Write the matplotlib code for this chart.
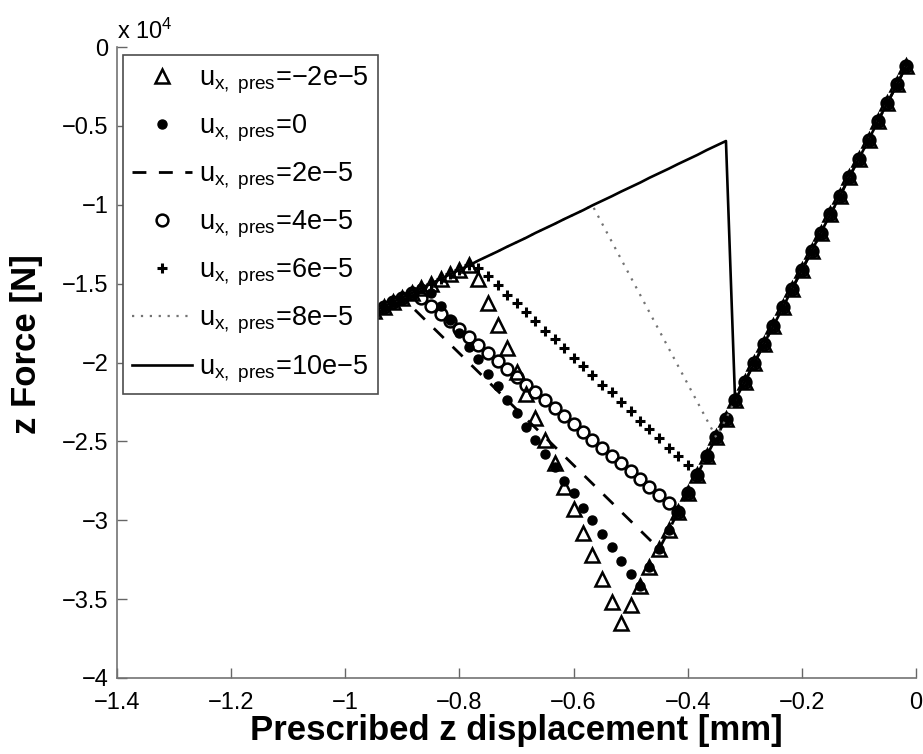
import matplotlib
matplotlib.use("Agg")
import matplotlib.pyplot as plt

plt.rcParams['font.family'] = ['Liberation Sans', 'DejaVu Sans']
plt.rcParams['mathtext.fontset'] = 'custom'
plt.rcParams['mathtext.rm'] = 'Liberation Sans'
plt.rcParams['mathtext.it'] = 'Liberation Sans:italic'
plt.rcParams['mathtext.bf'] = 'Liberation Sans:bold'

# prescribed z displacement steps [mm] (step 1 .. 60)
disp = [-0.017, -0.033, -0.050, -0.067, -0.083, -0.100, -0.117, -0.133, -0.150, -0.167,
        -0.183, -0.200, -0.217, -0.233, -0.250, -0.267, -0.283, -0.300, -0.317, -0.333,
        -0.350, -0.367, -0.383, -0.400, -0.417, -0.433, -0.450, -0.467, -0.483, -0.500,
        -0.517, -0.533, -0.550, -0.567, -0.583, -0.600, -0.617, -0.633, -0.650, -0.667,
        -0.683, -0.700, -0.717, -0.733, -0.750, -0.767, -0.783, -0.800, -0.817, -0.833,
        -0.850, -0.867, -0.883, -0.900, -0.917, -0.933, -0.950, -0.967, -0.983, -1.000]

# z force [x 1e4 N], shared elastic branch (steps 1 .. 31)
f_elastic = [-0.118, -0.236, -0.354, -0.471, -0.589, -0.707, -0.825, -0.943, -1.061, -1.178,
             -1.296, -1.414, -1.532, -1.650, -1.768, -1.885, -2.003, -2.121, -2.239, -2.357,
             -2.475, -2.592, -2.710, -2.828, -2.946, -3.064, -3.182, -3.299, -3.417, -3.535,
             -3.653]

# shared post-slip branch (steps 20 .. 60)
f_common = [-0.596, -0.625, -0.654, -0.684, -0.713, -0.742, -0.771, -0.800, -0.829, -0.859,
            -0.888, -0.917, -0.946, -0.975, -1.004, -1.034, -1.063, -1.092, -1.121, -1.150,
            -1.179, -1.209, -1.238, -1.267, -1.296, -1.325, -1.354, -1.384, -1.413, -1.442,
            -1.471, -1.500, -1.529, -1.559, -1.588, -1.617, -1.646, -1.675, -1.704, -1.734,
            -1.763]

# transition branches, one per prescribed x displacement
mid_m2 = [-3.52, -3.37, -3.22, -3.08, -2.93, -2.79, -2.64, -2.49, -2.35, -2.20,
          -2.06, -1.91, -1.76, -1.62, -1.47]                        # steps 32 .. 46
mid_0 = [-3.34, -3.26, -3.17, -3.09, -3.00, -2.92, -2.83, -2.75, -2.66, -2.58,
         -2.49, -2.41, -2.32, -2.24, -2.15, -2.07, -1.98, -1.90, -1.81, -1.73,
         -1.64, -1.56]                                               # steps 30 .. 51
mid_4 = [-2.89, -2.84, -2.79, -2.74, -2.69, -2.64, -2.59, -2.54, -2.49, -2.44,
         -2.39, -2.34, -2.29, -2.24, -2.19, -2.14, -2.09, -2.04, -1.99, -1.94,
         -1.89, -1.84, -1.79, -1.74, -1.69, -1.64, -1.59]            # steps 26 .. 52
mid_6 = [-2.65, -2.59, -2.54, -2.48, -2.42, -2.37, -2.31, -2.25, -2.19, -2.14,
         -2.08, -2.02, -1.97, -1.91, -1.85, -1.80, -1.74, -1.68, -1.62, -1.57,
         -1.51, -1.45, -1.40]                                        # steps 24 .. 46

labels = ['=\u22122e\u22125', '=0', '=2e\u22125', '=4e\u22125', '=6e\u22125',
          '=8e\u22125', '=10e\u22125']
xticks = [-1.4, -1.2, -1, -0.8, -0.6, -0.4, -0.2, 0]
xtick_labels = ['\u22121.4', '\u22121.2', '\u22121', '\u22120.8', '\u22120.6',
                '\u22120.4', '\u22120.2', '0']
yticks = [0, -0.5, -1, -1.5, -2, -2.5, -3, -3.5, -4]
ytick_labels = ['0', '\u22120.5', '\u22121', '\u22121.5', '\u22122', '\u22122.5',
                '\u22123', '\u22123.5', '\u22124']


def build(n_el, mid, k_common):
    # elastic steps 1..n_el, then mid, then common branch from step k_common on
    n = n_el + len(mid)
    x = disp[:n] + disp[k_common - 1:]
    y = f_elastic[:n_el] + mid + f_common[k_common - 20:]
    return x, y


series = [
    (build(31, mid_m2, 47), dict(ls='none', marker='^', ms=9.5, mfc='none', mec='k', mew=1.8)),
    (build(29, mid_0, 52), dict(ls='none', marker='o', ms=6.5, mfc='k', mec='k')),
    (build(27, [], 54), dict(ls=(0, (5, 4.5)), color='k', lw=2)),
    (build(25, mid_4, 53), dict(ls='none', marker='o', ms=8.5, mfc='none', mec='k', mew=1.8)),
    (build(23, mid_6, 47), dict(ls='none', marker='+', ms=6.5, mec='k', mew=2.2)),
    (build(21, [], 34), dict(ls=(0, (1, 3)), color='0.45', lw=1.6)),
    (build(19, [], 20), dict(ls='-', color='k', lw=1.9)),
]

fig = plt.figure(figsize=(9.23, 7.54), dpi=100)
ax = fig.add_axes([117 / 923, 76 / 754, 799 / 923, 631 / 754])

for ((x, y), style), lab in zip(series, labels):
    ax.plot(x, y, label=r'u$_{\mathrm{x,\ pres}}$' + lab, **style)

ax.set_xlim(-1.4, 0)
ax.set_ylim(-4, 0)
ax.set_xticks(xticks)
ax.set_xticklabels(xtick_labels)
ax.set_yticks(yticks)
ax.set_yticklabels(ytick_labels)
ax.tick_params(direction='in', length=7, width=1, labelsize=17, color='0.4')
ax.tick_params(axis='x', pad=10)
ax.tick_params(axis='y', pad=6)
for side in ['top', 'right']:
    ax.spines[side].set_visible(False)
for side in ['left', 'bottom']:
    ax.spines[side].set_color('0.45')
    ax.spines[side].set_linewidth(1.2)

ax.set_xlabel('Prescribed z displacement [mm]', fontsize=25, fontweight='bold', labelpad=0)
ax.set_ylabel('z Force [N]', fontsize=25, fontweight='bold')
ax.yaxis.set_label_coords(-0.092, 0.53)
ax.text(0.0, 1.005, r'x 10$^4$', transform=ax.transAxes, fontsize=17, va='bottom', ha='left')

leg = ax.legend(loc='upper left', bbox_to_anchor=(0.0075, 0.987), borderaxespad=0,
                fontsize=19.5, frameon=True, fancybox=False, framealpha=1,
                handlelength=2.2, handletextpad=0.25, labelspacing=0.62,
                borderpad=0.35)
leg.get_frame().set_edgecolor('0.3')
leg.get_frame().set_linewidth(1.2)

plt.savefig('out.png', dpi=100)
